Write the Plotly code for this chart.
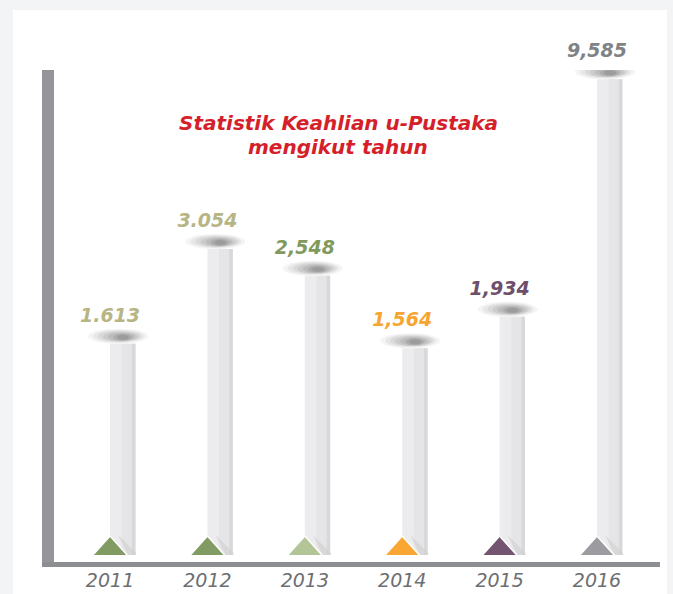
import plotly.graph_objects as go

# ---- data ----
years = ["2011", "2012", "2013", "2014", "2015", "2016"]
values = [1613, 3054, 2548, 1564, 1934, 9585]
value_labels = ["1.613", "3.054", "2,548", "1,564", "1,934", "9,585"]
label_colors = ["#b8b585", "#b8b585", "#7f9a5c", "#f7a531", "#6e4f6b", "#808285"]
triangle_colors = ["#819b62", "#819b62", "#b3c597", "#f9a634", "#735571", "#9c9ca0"]
title_lines = ["Statistik Keahlian u-Pustaka", "mengikut tahun"]

# ---- layout geometry ----
W, H = 673, 594
ML, MR, MT, MB = 48, 13, 70, 39
PW, PH = W - ML - MR, H - MT - MB
PX_PER_DECADE = 341.6
Y_LO = 2.589
Y_RANGE = [Y_LO, Y_LO + PH / PX_PER_DECADE]
X_RANGE = [-0.637, 5.647]
Y_BASE = 10 ** Y_LO


def px_x(p):
    return (p - ML) / PW


def px_y(p):
    return (H - MB - p) / PH


fig = go.Figure()

# bars (light ribbon with darker right edge)
fig.add_trace(go.Bar(x=years, y=values, offset=0, width=0.26,
                     marker=dict(color="#ececee", line=dict(width=0)), hoverinfo="skip"))
fig.add_trace(go.Bar(x=years, y=values, offset=0.12, width=0.14,
                     marker=dict(color="#e5e5e7", line=dict(width=0)), hoverinfo="skip"))
fig.add_trace(go.Bar(x=years, y=values, offset=0.225, width=0.035,
                     marker=dict(color="#d8d8da", line=dict(width=0)), hoverinfo="skip"))

# value labels
fig.add_trace(go.Scatter(
    x=years, y=values, mode="markers+text", text=value_labels,
    textposition="top center", cliponaxis=False,
    marker=dict(size=26, opacity=0),
    textfont=dict(family="DejaVu Sans", size=19, weight="bold", style="italic",
                  color=label_colors),
    hoverinfo="skip"))

shapes = []
# white card
shapes.append(dict(type="rect", xref="paper", yref="paper", layer="below",
                   x0=px_x(13), x1=px_x(667), y0=px_y(600), y1=px_y(10),
                   fillcolor="white", line=dict(width=0)))
# top shadows of bars (soft blurred ellipse above each bar)
shadow_layers = [(-22, 38, 0, 15, 0.05), (-17, 34, 1, 14, 0.06), (-12, 31, 2, 13, 0.07),
                 (-7, 28, 2, 12, 0.08), (-2, 25, 3, 11, 0.09), (3, 22, 3, 10, 0.10),
                 (7, 19, 4, 9, 0.12)]
for i, v in enumerate(values):
    for (x0, x1, y0, y1, op) in shadow_layers:
        shapes.append(dict(type="circle", layer="below", xref="x", yref="y",
                           xsizemode="pixel", ysizemode="pixel",
                           xanchor=i, yanchor=v,
                           x0=x0, x1=x1, y0=y0, y1=y1,
                           fillcolor="#2a2a2a", opacity=op, line=dict(width=0)))
# bottom fold shading + triangles
for i, c in enumerate(triangle_colors):
    shapes.append(dict(type="path", layer="above", xref="x", yref="y",
                       xsizemode="pixel", ysizemode="pixel",
                       xanchor=i, yanchor=Y_BASE,
                       path="M 8,20 L 26,2 L 26,0 L 18,0 Z",
                       fillcolor="#cfcfd1", opacity=0.6, line=dict(width=0)))
    shapes.append(dict(type="path", layer="above", xref="x", yref="y",
                       xsizemode="pixel", ysizemode="pixel",
                       xanchor=i, yanchor=Y_BASE,
                       path="M -18,-1 L 18,-1 L 0,19 Z",
                       fillcolor=c, line=dict(color="white", width=1.5)))
# axis bars
shapes.append(dict(type="rect", xref="paper", yref="paper", layer="above",
                   x0=px_x(42), x1=px_x(54), y0=px_y(567), y1=px_y(70),
                   fillcolor="#939598", line=dict(width=0)))
shapes.append(dict(type="rect", xref="paper", yref="paper", layer="above",
                   x0=px_x(42), x1=px_x(660), y0=px_y(567), y1=px_y(562),
                   fillcolor="#8d8e92", line=dict(width=0)))

title_font = dict(family="DejaVu Sans", size=20, weight="bold", style="italic", color="#d51f2b")
annotations = [
    dict(text=title_lines[0], xref="paper", yref="paper", x=px_x(338), y=px_y(123),
         xanchor="center", yanchor="middle", showarrow=False, font=title_font),
    dict(text=title_lines[1], xref="paper", yref="paper", x=px_x(338), y=px_y(147),
         xanchor="center", yanchor="middle", showarrow=False, font=title_font),
]

fig.update_layout(
    template="none",
    width=W, height=H,
    margin=dict(l=ML, r=MR, t=MT, b=MB, pad=0, autoexpand=False),
    paper_bgcolor="#f3f4f6", plot_bgcolor="rgba(0,0,0,0)",
    barmode="overlay", showlegend=False,
    shapes=shapes, annotations=annotations,
    xaxis=dict(type="category", range=X_RANGE, showgrid=False, zeroline=False,
               automargin=False, showline=False, ticks="", ticklabelstandoff=12,
               tickfont=dict(family="DejaVu Sans", size=19, style="italic", color="#6d6e71")),
    yaxis=dict(type="log", range=Y_RANGE, visible=False, showgrid=False, zeroline=False,
               automargin=False),
    hovermode=False,
)

fig.write_html(
    "out.html",
    config={"displayModeBar": False},
    post_script="document.body.style.margin='0';document.body.style.background='#f3f4f6';",
)
